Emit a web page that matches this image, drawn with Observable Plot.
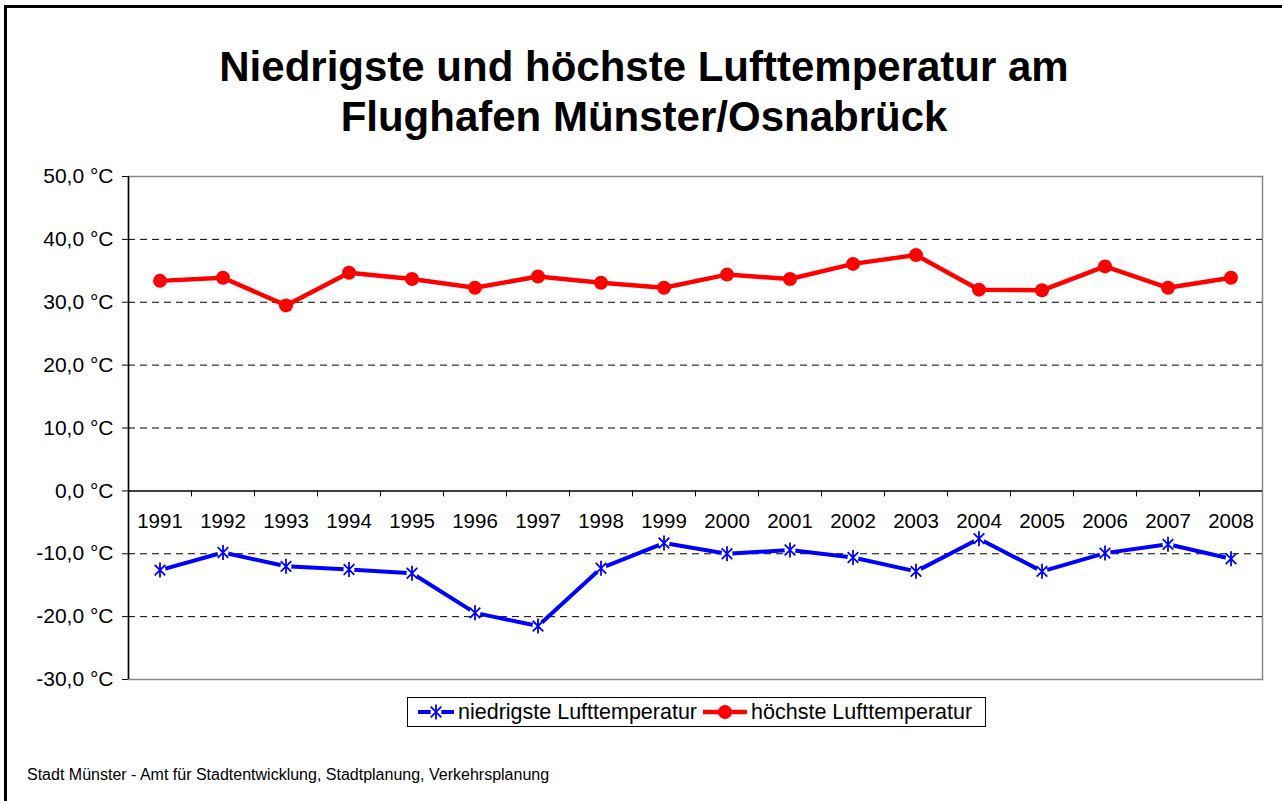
<!DOCTYPE html>
<html>
<head>
<meta charset="utf-8">
<script src="https://cdn.jsdelivr.net/npm/d3@7"></script>
<script src="https://cdn.jsdelivr.net/npm/@observablehq/plot@0.6"></script>
<style>
  html, body { margin: 0; padding: 0; background: #fff; }
  body { width: 1282px; height: 801px; position: relative; overflow: hidden; font-family: "Liberation Sans", Arial, sans-serif; }
  #frame { position: absolute; left: 4px; top: 5px; width: 1300px; height: 820px; border-left: 3px solid #000; border-top: 3px solid #000; box-sizing: border-box; }
  #title { position: absolute; left: 0; top: 42px; width: 1288px; text-align: center; font-weight: bold; font-size: 42px; line-height: 50px; color: #000; }
  #chart { position: absolute; left: 0; top: 0; }
  #legend { position: absolute; left: 407px; top: 697px; width: 579px; height: 30px; border: 1px solid #000; box-sizing: border-box; background: #fff; font-size: 21.5px; display: flex; align-items: center; white-space: nowrap; }
  #legend .item { display: flex; align-items: center; }
  #legend svg { display: block; }
  #caption { position: absolute; left: 27px; top: 766px; font-size: 16px; color: #000; }
</style>
</head>
<body>
<div id="frame"></div>
<div id="title">Niedrigste und höchste Lufttemperatur am<br>Flughafen Münster/Osnabrück</div>
<div id="chart"></div>
<div id="legend"></div>
<div id="caption">Stadt Münster - Amt für Stadtentwicklung, Stadtplanung, Verkehrsplanung</div>
<script>
// ---- data ----
const years = [1991, 1992, 1993, 1994, 1995, 1996, 1997, 1998, 1999, 2000, 2001, 2002, 2003, 2004, 2005, 2006, 2007, 2008];
const lowest = [-12.6, -9.8, -12.0, -12.5, -13.1, -19.4, -21.5, -12.3, -8.3, -10.0, -9.4, -10.6, -12.8, -7.6, -12.8, -9.9, -8.5, -10.8];
const highest = [33.4, 33.9, 29.5, 34.7, 33.7, 32.3, 34.1, 33.1, 32.3, 34.4, 33.7, 36.1, 37.5, 32.0, 31.9, 35.7, 32.3, 33.9];
const yTicks = [-30, -20, -10, 0, 10, 20, 30, 40, 50];
const seriesNames = ["niedrigste Lufttemperatur", "höchste Lufttemperatur"];

const low = years.map((y, i) => ({year: y, value: lowest[i]}));
const high = years.map((y, i) => ({year: y, value: highest[i]}));
const boundaries = years.map(y => y + 0.5);
const gridTicks = yTicks.filter(t => t !== 0 && t !== d3.min(yTicks) && t !== d3.max(yTicks));
const fmt = t => t.toFixed(1).replace(".", ",") + " °C";

// Excel-like star marker: vertical line plus an X
const starSymbol = {
  draw(context, size) {
    const r = Math.sqrt(size / Math.PI);
    const d = r * Math.SQRT1_2;
    context.moveTo(0, -r); context.lineTo(0, r);
    context.moveTo(-d, -d); context.lineTo(d, d);
    context.moveTo(-d, d); context.lineTo(d, -d);
  }
};

const chart = Plot.plot({
  width: 1282,
  height: 801,
  marginLeft: 128,
  marginRight: 20,
  marginTop: 176,
  marginBottom: 122,
  style: {fontFamily: "Liberation Sans, Arial, sans-serif", fontSize: "21px", background: "transparent", overflow: "visible", color: "#000"},
  x: {type: "linear", domain: [years[0] - 0.5, years[years.length - 1] + 0.5], axis: null},
  y: {domain: [d3.min(yTicks), d3.max(yTicks)], ticks: yTicks, tickFormat: fmt, tickSize: 6, tickPadding: 9, label: null},
  marks: [
    Plot.frame({stroke: "#888", strokeWidth: 1.5}),
    Plot.ruleY(gridTicks, {stroke: "#000", strokeDasharray: "7,5", strokeWidth: 1}),
    Plot.ruleY([0], {stroke: "#000", strokeWidth: 1.5}),
    Plot.ruleX([years[0] - 0.5], {stroke: "#000", strokeWidth: 1.5}),
    Plot.ruleX(boundaries.slice(0, -1), {x: d => d, y1: 0, y2: 0, insetTop: 0, insetBottom: -6, stroke: "#000", strokeWidth: 1}),
    Plot.text(years, {x: d => d, y: 0, text: d => String(d), dy: 31, fontSize: 20.5, fill: "#000"}),
    Plot.line(high, {x: "year", y: "value", stroke: "#ff0000", strokeWidth: 4.5}),
    Plot.dot(high, {x: "year", y: "value", r: 7, fill: "#ff0000", stroke: "none"}),
    Plot.line(low, {x: "year", y: "value", stroke: "#0000ff", strokeWidth: 4}),
    Plot.dot(low, {x: "year", y: "value", r: 5.5, fill: "#fff", stroke: "none"}),
    Plot.dot(low, {x: "year", y: "value", symbol: starSymbol, r: 7.5, stroke: "#0000ff", strokeWidth: 1.8, fill: "none"})
  ]
});
document.getElementById("chart").appendChild(chart);

// ---- legend ----
const legend = document.getElementById("legend");
function legendItem(kind, label, padLeft, w) {
  const item = document.createElement("div");
  item.className = "item";
  item.style.marginLeft = padLeft + "px";
  const ns = "http://www.w3.org/2000/svg";
  const svg = document.createElementNS(ns, "svg");
  svg.setAttribute("width", w); svg.setAttribute("height", 20);
  const line = document.createElementNS(ns, "line");
  line.setAttribute("x1", 0); line.setAttribute("x2", w); line.setAttribute("y1", 10); line.setAttribute("y2", 10);
  if (kind === "low") {
    line.setAttribute("stroke", "#0000ff"); line.setAttribute("stroke-width", 4);
    svg.appendChild(line);
    const bg = document.createElementNS(ns, "circle");
    bg.setAttribute("cx", w / 2); bg.setAttribute("cy", 10); bg.setAttribute("r", 5.5); bg.setAttribute("fill", "#fff");
    svg.appendChild(bg);
    const p = document.createElementNS(ns, "path");
    p.setAttribute("transform", `translate(${w / 2},10)`);
    p.setAttribute("d", d3.symbol(starSymbol, 7.5 * 7.5 * Math.PI)());
    p.setAttribute("stroke", "#0000ff"); p.setAttribute("stroke-width", 1.8); p.setAttribute("fill", "none");
    svg.appendChild(p);
  } else {
    line.setAttribute("stroke", "#ff0000"); line.setAttribute("stroke-width", 4.5);
    svg.appendChild(line);
    const c = document.createElementNS(ns, "circle");
    c.setAttribute("cx", w / 2); c.setAttribute("cy", 10); c.setAttribute("r", 7); c.setAttribute("fill", "#ff0000");
    svg.appendChild(c);
  }
  item.appendChild(svg);
  const span = document.createElement("span");
  span.textContent = label;
  span.style.marginLeft = "4px";
  item.appendChild(span);
  legend.appendChild(item);
}
legendItem("low", seriesNames[0], 10, 36);
legendItem("high", seriesNames[1], 6, 44);
</script>
</body>
</html>
